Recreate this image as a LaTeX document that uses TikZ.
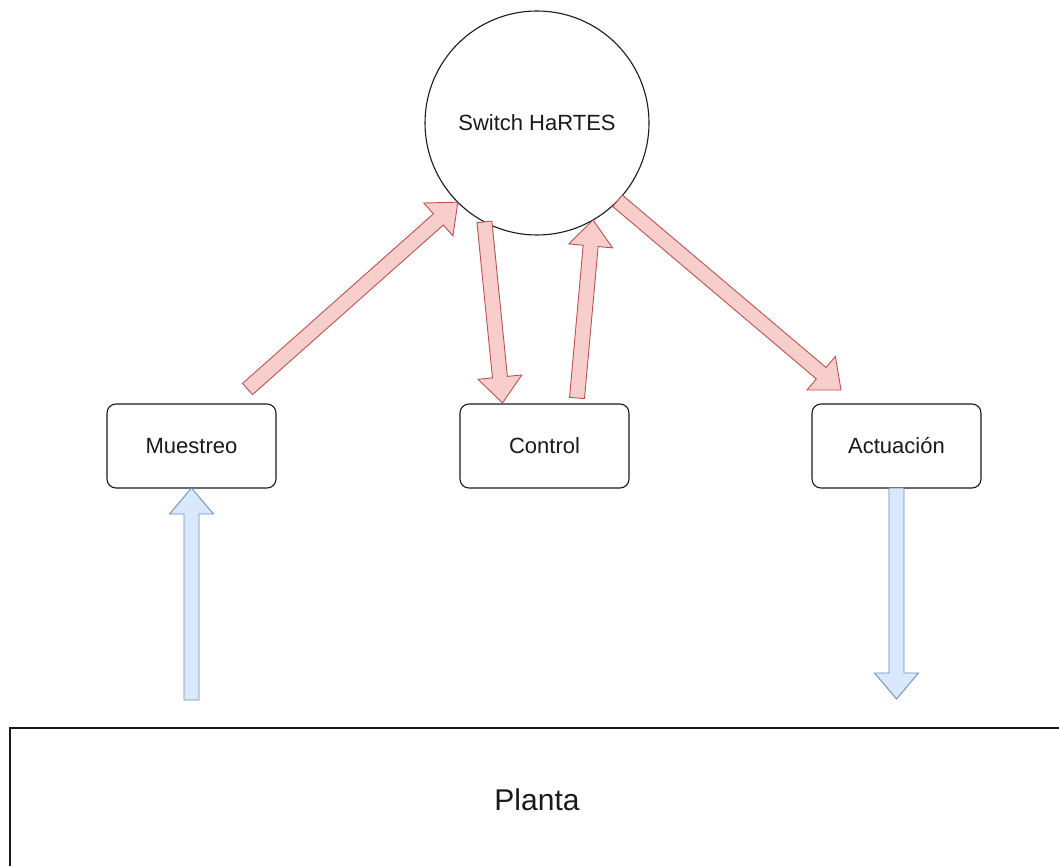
\documentclass[tikz,border=0pt]{standalone}
\usepackage{fontspec}
\setmainfont{Liberation Sans}
\usetikzlibrary{calc}

\definecolor{redfill}{HTML}{F8CECC}
\definecolor{redline}{HTML}{B85450}
\definecolor{bluefill}{HTML}{DAE8FC}
\definecolor{blueline}{HTML}{6C8EBF}
\definecolor{ink}{HTML}{1A1A1A}

% Block arrow between two points: shaft half-width, head half-width, head length
\newcommand{\fatarrow}[3]{%
  \draw[#1]
    ($(#2)!7.5pt!90:(#3)$) --
    ($($(#3)!26pt!(#2)$)!7.5pt!-90:(#2)$) --
    ($($(#3)!26pt!(#2)$)!22pt!-90:(#2)$) --
    (#3) --
    ($($(#3)!26pt!(#2)$)!22pt!90:(#2)$) --
    ($($(#3)!26pt!(#2)$)!7.5pt!90:(#2)$) --
    ($(#2)!7.5pt!-90:(#3)$) -- cycle;}

\begin{document}
\begin{tikzpicture}[x=1pt,y=-1pt,
  textstyle/.style={text=ink,font=\fontsize{22}{26}\selectfont},
  hub/.style={circle,draw=ink,line width=1.1pt,fill=white,minimum size=224pt,inner sep=0pt,outer sep=0pt,textstyle},
  stage/.style={rectangle,rounded corners=9pt,draw=ink,line width=1.1pt,fill=white,minimum width=169pt,minimum height=84pt,outer sep=0pt,textstyle},
  plantbox/.style={rectangle,draw=ink,line width=1.1pt,fill=white,minimum width=1054pt,minimum height=144pt,outer sep=0pt,text=ink,font=\fontsize{30}{34}\selectfont},
  redarrow/.style={fill=redfill,draw=redline,line width=0.9pt,line join=miter},
  bluearrow/.style={fill=bluefill,draw=blueline,line width=0.9pt,line join=miter}]

\useasboundingbox (0,0) rectangle (1059,866);
\clip (0,0) rectangle (1059,866);

% Nodes
\node[hub] (sw) at (537,123) {Switch HaRTES};
\node[stage] (mue) at (191.5,446) {Muestreo};
\node[stage] (ctl) at (544.5,446) {Control};
\node[stage] (act) at (896.5,446) {Actuación};
\node[plantbox] (plant) at (537,800) {Planta};

% Arrow end points
\coordinate (mueOut) at ($(mue.north)+(56,-15)$);
\coordinate (swIn1) at (sw.225);
\coordinate (swOut1) at (sw.242);
\coordinate (ctlIn) at ($(ctl.north)+(-42,-1)$);
\coordinate (ctlOut) at ($(ctl.north)+(32.5,-6)$);
\coordinate (swIn2) at (sw.300);
\coordinate (swOut2) at (sw.316);
\coordinate (actIn) at ($(act.north)+(-55.5,-14)$);
\coordinate (plantOut) at ($(mue.south |- plant.north)+(0,-28)$);
\coordinate (plantIn) at ($(act.south |- plant.north)+(0,-29)$);

% Network arrows
\fatarrow{redarrow}{mueOut}{swIn1}
\fatarrow{redarrow}{swOut1}{ctlIn}
\fatarrow{redarrow}{ctlOut}{swIn2}
\fatarrow{redarrow}{swOut2}{actIn}

% Plant I/O arrows
\fatarrow{bluearrow}{plantOut}{mue.south}
\fatarrow{bluearrow}{act.south}{plantIn}
\end{tikzpicture}
\end{document}
